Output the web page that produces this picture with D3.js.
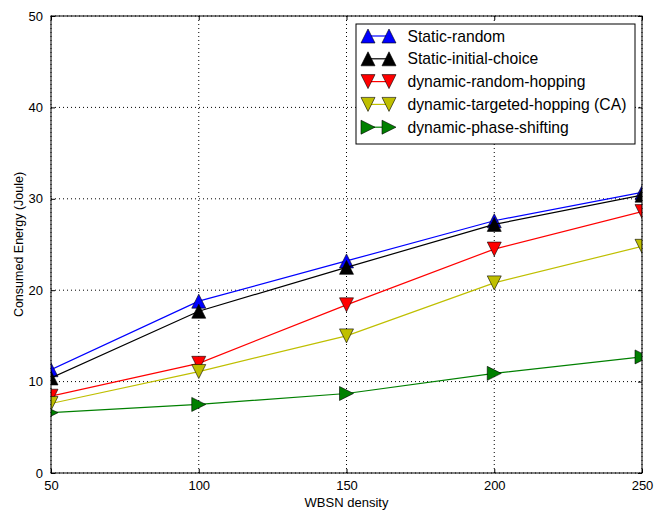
<!DOCTYPE html>
<html>
<head>
<meta charset="utf-8">
<script src="https://cdn.jsdelivr.net/npm/d3@7"></script>
<style>
  body { margin: 0; background: #fff; }
  text { font-family: "Liberation Sans", Arial, sans-serif; fill: #000; }
</style>
</head>
<body>
<div id="chart"></div>
<script>
const densities = [50, 100, 150, 200, 250];
const staticRandom = [11.3, 18.8, 23.2, 27.6, 30.7];
const staticInitialChoice = [10.4, 17.7, 22.5, 27.2, 30.4];
const dynamicRandomHopping = [8.4, 12.0, 18.4, 24.5, 28.6];
const dynamicTargetedHopping = [7.6, 11.1, 15.0, 20.8, 24.8];
const dynamicPhaseShifting = [6.6, 7.5, 8.7, 10.9, 12.7];
const xTicks = [50, 100, 150, 200, 250];
const yTicks = [0, 10, 20, 30, 40, 50];

const series = [
  {name: 'Static-random', values: staticRandom, color: '#0000ff', marker: 'up'},
  {name: 'Static-initial-choice', values: staticInitialChoice, color: '#000000', marker: 'up'},
  {name: 'dynamic-random-hopping', values: dynamicRandomHopping, color: '#ff0000', marker: 'down'},
  {name: 'dynamic-targeted-hopping (CA)', values: dynamicTargetedHopping, color: '#bfbf00', marker: 'down'},
  {name: 'dynamic-phase-shifting', values: dynamicPhaseShifting, color: '#008000', marker: 'right'}
];

const W = 655, H = 518;
const margin = {top: 16, right: 13, bottom: 45, left: 51};
const width = W - margin.left - margin.right;
const height = H - margin.top - margin.bottom;

const svg = d3.select('#chart')
    .append('svg')
    .attr('width', W)
    .attr('height', H);

const g = svg.append('g')
    .attr('transform', `translate(${margin.left},${margin.top})`);

const x = d3.scaleLinear().domain([50, 250]).range([0, width]);
const y = d3.scaleLinear().domain([0, 50]).range([height, 0]);

g.append('clipPath').attr('id', 'plotclip')
    .append('rect').attr('width', width).attr('height', height);

// grid
g.append('g').selectAll('line').data(xTicks).join('line')
    .attr('x1', d => x(d)).attr('x2', d => x(d))
    .attr('y1', 0).attr('y2', height)
    .attr('stroke', '#000').attr('stroke-width', 1)
    .attr('stroke-dasharray', '1,3');
g.append('g').selectAll('line').data(yTicks).join('line')
    .attr('x1', 0).attr('x2', width)
    .attr('y1', d => y(d)).attr('y2', d => y(d))
    .attr('stroke', '#000').attr('stroke-width', 1)
    .attr('stroke-dasharray', '1,3');

// marker shapes, centred on the bounding box like matplotlib
function markerPath(type, s) {
  if (type === 'up') return `M0,${-s}L${s},${s}L${-s},${s}Z`;
  if (type === 'down') return `M0,${s}L${s},${-s}L${-s},${-s}Z`;
  return `M${s},0L${-s},${s}L${-s},${-s}Z`;
}
const ms = 7;

const line = d3.line()
    .x((d, i) => x(densities[i]))
    .y(d => y(d));

const plot = g.append('g').attr('clip-path', 'url(#plotclip)');
series.forEach(s => {
  const sg = plot.append('g');
  sg.append('path')
      .datum(s.values)
      .attr('fill', 'none')
      .attr('stroke', s.color)
      .attr('stroke-width', 1.2)
      .attr('d', line);
  sg.selectAll('path.m').data(s.values).join('path')
      .attr('class', 'm')
      .attr('transform', (d, i) => `translate(${x(densities[i])},${y(d)})`)
      .attr('d', markerPath(s.marker, ms))
      .attr('fill', s.color)
      .attr('stroke', '#000')
      .attr('stroke-width', 0.6);
});

// axes with inward ticks on all four sides
const tickLen = 4;
g.append('g')
    .attr('transform', `translate(0,${height})`)
    .call(d3.axisBottom(x).tickValues(xTicks).tickSizeInner(-tickLen).tickSizeOuter(0).tickPadding(8))
    .call(a => a.select('.domain').remove())
    .selectAll('text').style('font-size', '13px');
g.append('g')
    .call(d3.axisTop(x).tickValues(xTicks).tickSizeInner(-tickLen).tickSizeOuter(0).tickFormat(''))
    .call(a => a.select('.domain').remove());
g.append('g')
    .call(d3.axisLeft(y).tickValues(yTicks).tickSizeInner(-tickLen).tickSizeOuter(0).tickPadding(8))
    .call(a => a.select('.domain').remove())
    .selectAll('text').style('font-size', '13px');
g.append('g')
    .attr('transform', `translate(${width},0)`)
    .call(d3.axisRight(y).tickValues(yTicks).tickSizeInner(-tickLen).tickSizeOuter(0).tickFormat(''))
    .call(a => a.select('.domain').remove());
g.selectAll('.tick line').attr('stroke', '#000');

g.append('rect')
    .attr('width', width).attr('height', height)
    .attr('fill', 'none').attr('stroke', '#000').attr('stroke-width', 1);

// axis labels
svg.append('text')
    .attr('x', margin.left + width / 2)
    .attr('y', 507)
    .attr('text-anchor', 'middle')
    .style('font-size', '13px')
    .text('WBSN density');
svg.append('text')
    .attr('transform', `translate(22.5,${margin.top + height / 2}) rotate(-90)`)
    .attr('text-anchor', 'middle')
    .style('font-size', '12.5px')
    .text('Consumed Energy (Joule)');

// legend
const lx = 356 - margin.left, ly = 24 - margin.top;
const legend = g.append('g').attr('transform', `translate(${lx},${ly})`);
legend.append('rect')
    .attr('width', 279).attr('height', 120)
    .attr('fill', '#fff').attr('stroke', '#000').attr('stroke-width', 1);
series.forEach((s, i) => {
  const cy = 12 + i * 22.8;
  const row = legend.append('g').attr('transform', `translate(0,${cy})`);
  row.append('line')
      .attr('x1', 12).attr('x2', 33)
      .attr('stroke', s.color).attr('stroke-width', 1.2);
  [12, 33].forEach(cx => {
    row.append('path')
        .attr('transform', `translate(${cx},0)`)
        .attr('d', markerPath(s.marker, ms))
        .attr('fill', s.color)
        .attr('stroke', '#000')
        .attr('stroke-width', 0.6);
  });
  row.append('text')
      .attr('x', 51.5)
      .attr('dy', '0.36em')
      .style('font-size', '15.7px')
      .text(s.name);
});
</script>
</body>
</html>
